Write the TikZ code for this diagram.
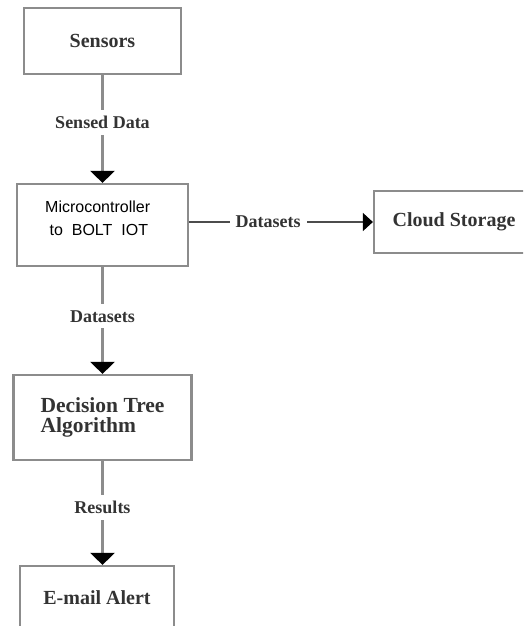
\documentclass[tikz,border=0pt]{standalone}
\usepackage{fontspec}
\setmainfont{Liberation Serif}
\newfontfamily\arialfont{Liberation Sans}
\usetikzlibrary{arrows.meta,positioning}

\begin{document}
\begin{tikzpicture}[x=1pt,y=-1pt]
\tikzstyle{block}=[draw=black!45, line width=2.2pt, inner sep=0pt, text=black!80,
	font=\fontsize{20}{20}\selectfont\bfseries]
\tikzstyle{flow}=[draw=black!45, line width=2.6pt,
	-{Triangle[width=24pt,length=12pt,color=black]}]
\tikzstyle{flowthin}=[draw=black!70, line width=1.2pt,
	-{Triangle[width=18pt,length=10pt,color=black]}]
\tikzstyle{tag}=[fill=white, inner sep=6pt, text=black!80,
	font=\fontsize{18}{18}\selectfont\bfseries]
\useasboundingbox (0,0) rectangle (523,626);
\clip (0,0) rectangle (523,626);

\node[block, minimum width=157pt, minimum height=66pt] (sensors) at (102.5,41) {Sensors};
\node[block, minimum width=171pt, minimum height=82pt] (micro) at (102.5,225) {};
\node[anchor=west, align=left, text=black, inner sep=0pt,
	font=\arialfont\fontsize{16}{23}\selectfont] (microtext) at (45,218)
	{Microcontroller\\ \ to\ \ BOLT\ \ IOT};
\node[block, minimum width=160pt, minimum height=62pt] (cloud) at (454,222) {Cloud Storage};
\node[block, align=left, minimum width=178pt, minimum height=85pt,
	font=\fontsize{21.5}{20}\selectfont\bfseries] (decision) at (102.5,417.5)
	{Decision Tree\\Algorithm};
\node[block, minimum width=154pt, minimum height=64pt] (email) at (97,598) {E-mail Alert};

\draw[flow] (sensors) -- node[tag, pos=0.44] {Sensed Data} (micro);
\draw[flowthin] (micro.east |- cloud.west) -- node[tag, pos=0.43] {Datasets} (cloud.west);
\draw[flow] (micro) -- node[tag, pos=0.46] {Datasets} (decision);
\draw[flow] (decision) -- node[tag, pos=0.45] {Results} (decision |- email.north);

\end{tikzpicture}
\end{document}
